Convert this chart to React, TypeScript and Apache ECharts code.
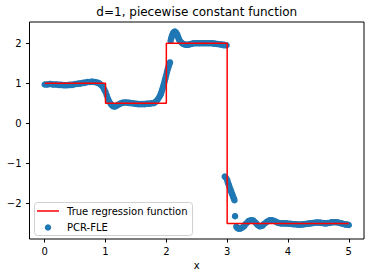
import React, { useEffect, useRef } from "react";
import * as echarts from "echarts";

const titleText = "d=1, piecewise constant function";
const xTicks = [0, 1, 2, 3, 4, 5];
const yTicks = [-2, -1, 0, 1, 2];

// True regression function (piecewise constant), step breakpoints
const trueX = [0, 1, 2, 3, 5];
const trueY = [1, 0.5, 2, -2.5, -2.5];

// PCR-FLE estimates
const fleX = [
  0.0, 0.03, 0.05, 0.08, 0.1, 0.13, 0.15, 0.18, 0.2, 0.23, 0.25, 0.28, 0.3, 0.33, 0.35, 0.38, 0.4, 0.43, 0.45, 0.48,
  0.5, 0.53, 0.55, 0.58, 0.6, 0.63, 0.65, 0.68, 0.7, 0.73, 0.75, 0.78, 0.8, 0.83, 0.85, 0.88, 0.9, 0.92, 0.94, 0.96,
  0.98, 1.0, 1.02, 1.04, 1.06, 1.08, 1.1, 1.12, 1.14, 1.16, 1.18, 1.2, 1.23, 1.25, 1.28, 1.3, 1.33, 1.35, 1.38, 1.4,
  1.43, 1.45, 1.48, 1.5, 1.53, 1.55, 1.58, 1.6, 1.63, 1.65, 1.68, 1.7, 1.73, 1.75, 1.78, 1.8, 1.82, 1.84, 1.86, 1.88,
  1.9, 1.91, 1.92, 1.93, 1.94, 1.95, 1.96, 1.97, 1.98, 1.99, 2.0, 2.01, 2.02, 2.03, 2.04, 2.05, 2.06,
  2.07, 2.08, 2.09, 2.1, 2.11, 2.12, 2.13, 2.14, 2.15, 2.16, 2.17, 2.18, 2.19, 2.2, 2.21, 2.22, 2.24, 2.26, 2.28,
  2.3, 2.33, 2.35, 2.38, 2.4, 2.43, 2.45, 2.48, 2.5, 2.53, 2.55, 2.58, 2.6, 2.63, 2.65, 2.68, 2.7, 2.73, 2.75, 2.78,
  2.8, 2.83, 2.85, 2.88, 2.9, 2.93, 2.95, 2.97, 2.99,
  2.94, 2.96, 2.98, 3.0, 3.01, 3.02, 3.03, 3.04, 3.05, 3.06, 3.07, 3.08, 3.09, 3.1, 3.11,
  3.12,
  3.13, 3.15, 3.17, 3.19, 3.21, 3.23, 3.25, 3.28, 3.3, 3.33, 3.35, 3.38, 3.4, 3.43, 3.45, 3.48, 3.5, 3.53, 3.55, 3.58,
  3.6, 3.63, 3.65, 3.68, 3.7, 3.73, 3.75, 3.78, 3.8, 3.83, 3.85, 3.88, 3.9, 3.93, 3.95, 3.98, 4.0, 4.03, 4.05, 4.08,
  4.1, 4.13, 4.15, 4.18, 4.2, 4.23, 4.25, 4.28, 4.3, 4.33, 4.35, 4.38, 4.4, 4.43, 4.45, 4.48, 4.5, 4.53, 4.55, 4.58,
  4.6, 4.63, 4.65, 4.68, 4.7, 4.73, 4.75, 4.78, 4.8, 4.83, 4.85, 4.88, 4.9, 4.93, 4.95, 4.98, 5.0,
];
const fleY = [
  0.97, 0.97, 0.97, 0.98, 0.98, 0.97, 0.97, 0.97, 0.97, 0.96, 0.96, 0.96, 0.95, 0.95, 0.95, 0.95, 0.96, 0.96, 0.96, 0.97,
  0.98, 0.98, 0.99, 0.99, 1.0, 1.01, 1.01, 1.02, 1.03, 1.03, 1.03, 1.04, 1.03, 1.03, 1.02, 1.01, 0.99, 0.97, 0.94, 0.9,
  0.84, 0.78, 0.7, 0.62, 0.55, 0.5, 0.46, 0.43, 0.42, 0.42, 0.44, 0.46, 0.48, 0.5, 0.51, 0.52, 0.52, 0.52, 0.51, 0.51,
  0.5, 0.5, 0.49, 0.49, 0.48, 0.48, 0.48, 0.48, 0.48, 0.48, 0.49, 0.49, 0.49, 0.5, 0.5, 0.51, 0.53, 0.56, 0.6, 0.65,
  0.7, 0.74, 0.78, 0.83, 0.88, 0.93, 0.98, 1.04, 1.1, 1.16, 1.22, 1.28, 1.34, 1.39, 1.44, 1.48, 1.52,
  2.06, 2.12, 2.17, 2.21, 2.25, 2.27, 2.28, 2.29, 2.28, 2.26, 2.24, 2.21, 2.17, 2.13, 2.09, 2.06, 2.03, 2.0, 1.98, 1.97,
  1.96, 1.96, 1.97, 1.98, 1.99, 2.0, 2.0, 2.0, 2.0, 2.0, 2.0, 2.0, 2.0, 2.0, 2.0, 2.0, 2.0, 2.0, 1.99, 1.99,
  1.98, 1.98, 1.97, 1.97, 1.96, 1.96, 1.95, 1.95, 1.95,
  -1.33, -1.36, -1.41, -1.47, -1.51, -1.55, -1.6, -1.64, -1.68, -1.72, -1.76, -1.8, -1.84, -1.88, -1.92,
  -2.32,
  -2.58, -2.62, -2.63, -2.63, -2.62, -2.6, -2.57, -2.52, -2.48, -2.44, -2.43, -2.42, -2.43, -2.46, -2.5, -2.54, -2.57, -2.57, -2.56, -2.52,
  -2.49, -2.46, -2.44, -2.42, -2.42, -2.43, -2.44, -2.46, -2.48, -2.49, -2.5, -2.5, -2.5, -2.5, -2.5, -2.51, -2.51, -2.51, -2.52, -2.52,
  -2.52, -2.53, -2.53, -2.53, -2.53, -2.52, -2.52, -2.51, -2.51, -2.5, -2.5, -2.49, -2.49, -2.48, -2.48, -2.48, -2.48, -2.49, -2.49, -2.5,
  -2.5, -2.49, -2.49, -2.48, -2.47, -2.47, -2.47, -2.47, -2.48, -2.49, -2.5, -2.51, -2.52, -2.53, -2.53, -2.54, -2.55,
];

const FONT = "DejaVu Sans";
const fmt = (v: number) => String(v).replace("-", "\u2212");

export default function App() {
  const ref = useRef<HTMLDivElement>(null);
  useEffect(() => {
    if (!ref.current) return;
    const chart = echarts.init(ref.current, null, { renderer: "svg" });
    const gridL = 29.5, gridR = 6, gridT = 22, gridB = 39;
    const plotCx = gridL + (370 - gridL - gridR) / 2;
    chart.setOption({
      animation: false,
      backgroundColor: "#fff",
      grid: {
        left: gridL, right: gridR, top: gridT, bottom: gridB,
        show: true, borderColor: "#000", borderWidth: 1, backgroundColor: "transparent",
      },
      xAxis: {
        type: "value", min: -0.25, max: 5.25,
        name: "x", nameLocation: "middle", nameGap: 21,
        nameTextStyle: { fontFamily: FONT, fontSize: 10, color: "#000" },
        splitLine: { show: false },
        axisLine: { show: false, onZero: false },
        axisTick: { show: true, length: 3.5, inside: false, customValues: xTicks, lineStyle: { color: "#000" } },
        axisLabel: { customValues: xTicks, margin: 7, fontFamily: FONT, fontSize: 10, color: "#000", formatter: fmt },
      },
      yAxis: {
        type: "value", min: -2.89, max: 2.53,
        splitLine: { show: false },
        axisLine: { show: false, onZero: false },
        axisTick: { show: true, length: 3.5, inside: false, customValues: yTicks, lineStyle: { color: "#000" } },
        axisLabel: { customValues: yTicks, margin: 8, fontFamily: FONT, fontSize: 10, color: "#000", formatter: fmt },
      },
      series: [
        {
          name: "PCR-FLE",
          type: "scatter",
          data: fleX.map((x, i) => [x, fleY[i]]),
          symbolSize: 6.5,
          itemStyle: { color: "#1f77b4", opacity: 1 },
          z: 2,
        },
        {
          name: "True regression function",
          type: "line",
          step: "end",
          data: trueX.map((x, i) => [x, trueY[i]]),
          showSymbol: false,
          symbol: "none",
          lineStyle: { color: "#ff0000", width: 1.5 },
          z: 3,
        },
      ],
      graphic: [
        {
          type: "text", x: plotCx, y: 6,
          style: { text: titleText, fontFamily: FONT, fontSize: 12, fill: "#000", textAlign: "center", textVerticalAlign: "top" },
        },
        {
          type: "rect", shape: { x: 34.5, y: 202.5, width: 158, height: 33, r: 3 },
          style: { fill: "rgba(255,255,255,0.8)", stroke: "#d0d0d0", lineWidth: 1 }, z: 10,
        },
        {
          type: "line", shape: { x1: 37, y1: 211, x2: 59, y2: 211 },
          style: { stroke: "#ff0000", lineWidth: 1.5 }, z: 11,
        },
        {
          type: "circle", shape: { cx: 48, cy: 227.5, r: 3.2 },
          style: { fill: "#1f77b4" }, z: 11,
        },
        {
          type: "text", x: 67, y: 211, z: 11,
          style: { text: "True regression function", fontFamily: FONT, fontSize: 10, fill: "#000", verticalAlign: "middle" },
        },
        {
          type: "text", x: 67, y: 227.5, z: 11,
          style: { text: "PCR-FLE", fontFamily: FONT, fontSize: 10, fill: "#000", verticalAlign: "middle" },
        },
      ],
    });
    return () => chart.dispose();
  }, []);
  return <div ref={ref} style={{ width: 370, height: 278, position: "absolute", left: 0, top: 0 }} />;
}
